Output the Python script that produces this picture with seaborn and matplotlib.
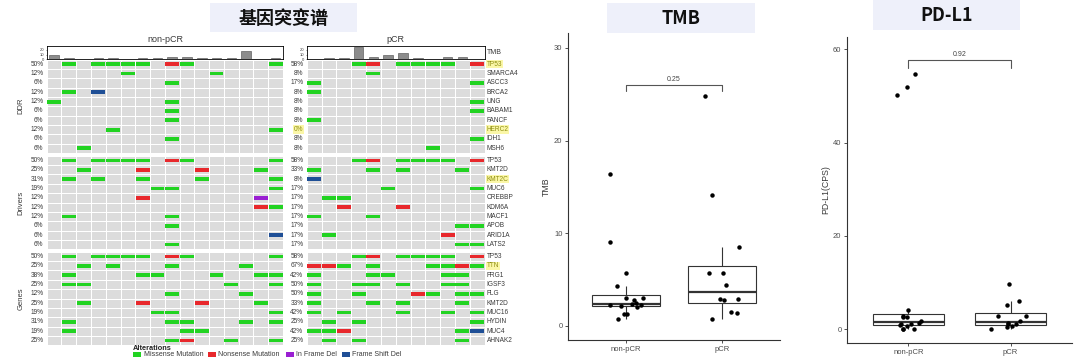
import numpy as np
import pandas as pd
import matplotlib
matplotlib.use("Agg")
import matplotlib.pyplot as plt
from matplotlib.colors import ListedColormap
from matplotlib.patches import Rectangle
import seaborn as sns

# ---------------- data ----------------
panels = ["non-pCR", "pCR"]
groups = ["DDR", "Drivers", "Genes"]
genes_ddr = ["TP53", "SMARCA4", "ASCC3", "BRCA2", "UNG", "BABAM1", "FANCF", "HERC2", "IDH1", "MSH6"]
genes_drivers = ["TP53", "KMT2D", "KMT2C", "MUC6", "CREBBP", "KDM6A", "MACF1", "APOB", "ARID1A", "LATS2"]
genes_genes = ["TP53", "TTN", "FRG1", "IGSF3", "FLG", "KMT2D", "MUC16", "HYDIN", "MUC4", "AHNAK2"]

# one string per gene, one character per patient
# M = missense, N = nonsense, I = in frame del, F = frame shift del, . = none
nonpcr_ddr = [".M.MMMM.NM.....M", ".....M.....M....", "........M.......", ".M.F............",
              "M.......M.......", "........M.......", "........M.......", "....M..........M",
              "........M.......", "..M............."]
nonpcr_drivers = [".M.MMMM.NM.....M", "..M...N...N...M.", ".M.M..M...M....M", ".......MM......M",
                  "......N.......I.", "..............NM", ".M......M.......", "........M.......",
                  "...............F", "........M......."]
nonpcr_genes = [".M.MMMM.NM.....M", "..M.M...M....M..", ".M....MM...M..MM", ".MM.........M..M",
                "........M....M..", "..M...N...N...M.", ".......MM......M", ".M......MM...M.M",
                ".M.......MM.....", "........MN..M..M"]
pcr_ddr = ["...MN.MMMM.N", "....M.......", "M..........M", "M...........",
           "...........M", "...........M", "M...........", "............",
           "...........M", "........M..."]
pcr_drivers = ["...MN.MMMM.N", "M...M.M...M.", "F...........", ".....M.....M",
               ".MM.........", "..N...N.....", "M...M.......", "..........MM",
               ".M.......N..", "..........MM"]
pcr_genes = ["...MN.MMMM.N", "NNM.M...MMNM", "M...MM...MM.", "M..MM.M..MM.",
             "M..M...NM.MM", "M...M.M...M.", "M.M...M..M.M", ".M.M.......M",
             "MMN.......MF", ".M.M......M."]

highlight_labels = [("DDR", "TP53"), ("DDR", "HERC2"), ("Drivers", "KMT2C"), ("Genes", "TTN")]
highlight_pct = [("pCR", "DDR", "HERC2")]

# TMB per patient, same order as the oncoprint columns
tmb_nonpcr = [9.1, 2.45, 1.3, 2.85, 3.05, 1.3, 3.05, 2.3, 4.35, 5.7, 2.37, 2.0, 2.2, 16.4, 0.75, 2.3]
tmb_pcr = [0.75, 2.9, 2.9, 24.8, 4.4, 8.55, 14.1, 2.85, 1.37, 5.7, 5.75, 1.55]

pdl1_nonpcr = [54.8, 51.9, 50.2, 4.1, 2.9, 2.7, 2.7, 1.7, 1.3, 1.1, 1.1, 0.9, 0.8, 0.0, 0.0, 0.0]
pdl1_pcr = [9.6, 6.0, 5.2, 2.9, 2.8, 1.7, 1.3, 1.2, 1.05, 0.8, 0.4, 0.0]

tmb_p, tmb_bracket = "0.25", 26.0
pdl1_p, pdl1_bracket = "0.92", 57.6

alteration_names = ["Missense Mutation", "Nonsense Mutation", "In Frame Del", "Frame Shift Del"]
alteration_codes = ["M", "N", "I", "F"]

# ---------------- style ----------------
sns.set_theme(style="white")
plt.rcParams['font.family'] = ['Liberation Sans', 'Noto Sans CJK SC', 'DejaVu Sans']
mut_colors = dict(zip(alteration_codes, ["#22D322", "#E8282C", "#9A1FD2", "#1F4F96"]))
cell_gray = "#DCDCDC"
txt_gray = "#3A3A3A"
title_bg = "#EEF0FA"

W, H = 1080, 362
fig = plt.figure(figsize=(W / 100, H / 100), dpi=100)


def px_axes(left, top, right, bottom):
    return fig.add_axes([left / W, 1 - bottom / H, (right - left) / W, (bottom - top) / H])


gene_lists = dict(zip(groups, [genes_ddr, genes_drivers, genes_genes]))
mut_data = {
    ("non-pCR", "DDR"): nonpcr_ddr, ("non-pCR", "Drivers"): nonpcr_drivers, ("non-pCR", "Genes"): nonpcr_genes,
    ("pCR", "DDR"): pcr_ddr, ("pCR", "Drivers"): pcr_drivers, ("pCR", "Genes"): pcr_genes,
}
panel_x = {"non-pCR": (46.7, 283.0), "pCR": (306.7, 484.7)}
group_y = dict(zip(groups, [(59.5, 153.0), (155.8, 249.2), (251.8, 345.2)]))

# ---------------- oncoprint ----------------
for panel in panels:
    x0, x1 = panel_x[panel]
    for grp in groups:
        y0, y1 = group_y[grp]
        ax = px_axes(x0, y0, x1, y1)
        mat = np.array([list(s) for s in mut_data[(panel, grp)]])
        nrow, ncol = mat.shape
        sns.heatmap(np.zeros(mat.shape), cmap=ListedColormap([cell_gray]), cbar=False,
                    linewidths=0.7, linecolor="white", xticklabels=False, yticklabels=False, ax=ax)
        for code in alteration_codes:
            r, c = np.nonzero(mat == code)
            if len(r):
                ax.barh(r + 0.5, 0.94, left=c + 0.03, height=0.42, color=mut_colors[code], linewidth=0)
        ax.set_xlim(0, ncol)
        ax.set_ylim(nrow, 0)
        ax.set_xlabel("")
        ax.set_ylabel("")
        for i, g in enumerate(gene_lists[grp]):
            pct = f"{round(100 * np.sum(mat[i] != '.') / ncol)}%"
            kw = {}
            if (panel, grp, g) in highlight_pct:
                kw = dict(color="#8E8E10", bbox=dict(boxstyle="square,pad=0.1", fc="#FBF7A8", ec="none"))
            ax.text(-0.22, i + 0.5, pct, ha="right", va="center", fontsize=4.7,
                    **({"color": txt_gray} | kw))
            if panel == "pCR":
                kw = {}
                if (grp, g) in highlight_labels:
                    kw = dict(color="#8E8E10", bbox=dict(boxstyle="square,pad=0.1", fc="#FBF7A8", ec="none"))
                ax.text(ncol + 0.13, i + 0.5, g, ha="left", va="center", fontsize=4.7,
                        **({"color": txt_gray} | kw))

# TMB bars on top of the oncoprint
for panel, vals in zip(panels, [tmb_nonpcr, tmb_pcr]):
    x0, x1 = panel_x[panel]
    axb = px_axes(x0, 45.7, x1, 59.3)
    sns.barplot(x=np.arange(len(vals)), y=vals, color="#8C8C8C", edgecolor="#4A4A4A",
                linewidth=0.4, width=0.65, saturation=1, ax=axb)
    axb.set_xlim(-0.5, len(vals) - 0.5)
    axb.set_ylim(0, 28.5)
    axb.set_xticks([])
    axb.set_yticks([0, 10, 20])
    axb.tick_params(axis="y", labelsize=3, length=1, width=0.4, pad=0.5, colors=txt_gray, left=True)
    axb.set_xlabel("")
    axb.set_ylabel("")
    for sp in axb.spines.values():
        sp.set_visible(True)
        sp.set_color("black")
        sp.set_linewidth(0.6)

# ---------------- box plots ----------------
def box_panel(ax, nonpcr, pcr, ylabel, yticks, ylim, p_text, bracket, tip):
    df = pd.DataFrame({"group": ["non-pCR"] * len(nonpcr) + ["pCR"] * len(pcr),
                       "value": nonpcr + pcr})
    sns.boxplot(data=df, x="group", y="value", order=panels, width=0.7, color="white",
                linecolor="#333333", linewidth=0.8, showfliers=False, showcaps=False,
                medianprops=dict(linewidth=1.6), ax=ax)
    sns.stripplot(data=df, x="group", y="value", order=panels, jitter=0.19, color="black",
                  size=3.2, ax=ax, zorder=3)
    ax.plot([0, 0, 1, 1], [bracket - tip, bracket, bracket, bracket - tip], color="#555555", lw=0.8)
    ax.annotate(p_text, (0.5, bracket), xytext=(0, 1.5), textcoords="offset points",
                ha="center", va="bottom", fontsize=5, color="#444444")
    ax.set_xlim(-0.6, 1.6)
    ax.set_ylim(*ylim)
    ax.set_yticks(yticks)
    ax.set_xlabel("")
    ax.set_ylabel(ylabel, fontsize=6.3, color=txt_gray, labelpad=2)
    ax.tick_params(labelsize=5.5, labelcolor="#4D4D4D", color="#333333", length=2, width=0.6,
                   pad=2, left=True, bottom=True)
    sns.despine(ax=ax)
    for side in ["left", "bottom"]:
        ax.spines[side].set_color("#333333")
        ax.spines[side].set_linewidth(0.8)


np.random.seed(7)
ax_tmb = px_axes(568, 33, 780, 340)
box_panel(ax_tmb, tmb_nonpcr, tmb_pcr, "TMB", [0, 10, 20, 30], (-1.51, 31.6), tmb_p, tmb_bracket, 0.7)

ax_pd = px_axes(847, 36.7, 1072, 343)
box_panel(ax_pd, pdl1_nonpcr, pdl1_pcr, "PD-L1(CPS)", [0, 20, 40, 60], (-2.94, 62.7), pdl1_p, pdl1_bracket, 1.7)

# ---------------- overlay texts ----------------
ov = fig.add_axes([0, 0, 1, 1])
ov.set_xlim(0, W)
ov.set_ylim(H, 0)
ov.axis("off")

for (x, y, w, h, label) in [(210, 3, 147, 29, "基因突变谱"), (607, 3, 148, 30, "TMB"),
                            (873, 0, 147, 30, "PD-L1")]:
    ov.add_patch(Rectangle((x, y), w, h, facecolor=title_bg, edgecolor="none"))
    ov.text(x + w / 2, y + h / 2 + 0.5, label, ha="center", va="center", fontsize=13,
            fontweight="bold", color="#111111", family=["Noto Sans CJK SC", "DejaVu Sans"])

ov.text(165, 39, "non-pCR", ha="center", va="center", fontsize=6.5, color=txt_gray)
ov.text(395, 39, "pCR", ha="center", va="center", fontsize=6.5, color=txt_gray)
ov.text(487, 52, "TMB", ha="left", va="center", fontsize=5, color=txt_gray)

for grp in groups:
    y0, y1 = group_y[grp]
    ov.text(21, (y0 + y1) / 2, grp, ha="center", va="center", rotation=90, fontsize=5.5, color=txt_gray)

# legend
ov.text(133, 348.5, "Alterations", ha="left", va="center", fontsize=5.3, fontweight="bold", color="#222222")
for x, code, name in zip([133, 208, 286, 342], alteration_codes, alteration_names):
    ov.add_patch(Rectangle((x, 352), 8, 5, facecolor=mut_colors[code], edgecolor="none"))
    ov.text(x + 10.5, 354.5, name, ha="left", va="center", fontsize=5, color=txt_gray)

fig.savefig("out.png", dpi=100, facecolor="white")
